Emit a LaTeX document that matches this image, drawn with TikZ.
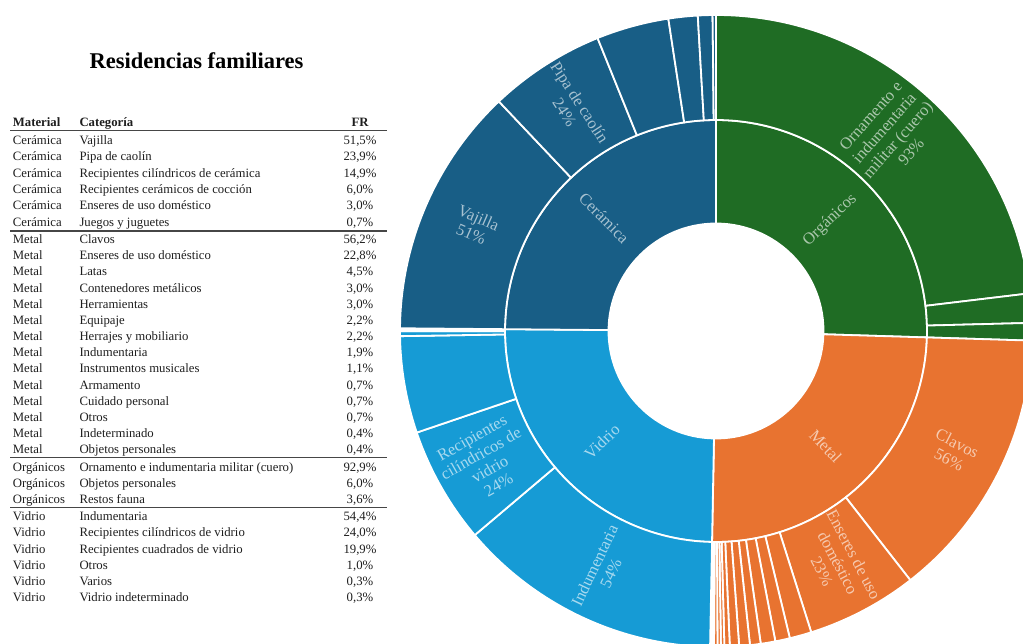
\documentclass[tikz,border=0pt]{standalone}
\usepackage{fontspec}
\setmainfont{Liberation Serif}
\definecolor{cerC}{RGB}{24,94,134}
\definecolor{orgC}{RGB}{31,108,36}
\definecolor{metC}{RGB}{232,115,48}
\definecolor{vidC}{RGB}{22,155,213}
\definecolor{rulegray}{RGB}{70,70,70}
\definecolor{tabtext}{RGB}{30,30,30}
\newcommand{\ringseg}[5]{%
  \filldraw[sep, fill=#5]
    ({90-(#3)}:#1pt) arc[start angle={90-(#3)}, end angle={90-(#4)}, radius=#1pt]
    -- ({90-(#4)}:#2pt) arc[start angle={90-(#4)}, end angle={90-(#3)}, radius=#2pt] -- cycle;}
\tikzset{
  sep/.style={draw=white, line width=1.8pt, line join=round},
  cell/.style={anchor=base west, inner sep=0pt, text=tabtext, font=\fontsize{12.75}{15}\selectfont},
  frcell/.style={anchor=base, inner sep=0pt, text=tabtext, font=\fontsize{12.75}{15}\selectfont},
  headcell/.style={inner sep=0pt, text=tabtext, font=\fontsize{12.75}{15}\selectfont\bfseries},
  tabrule/.style={draw=rulegray, line width=1.6pt},
  seglbl/.style={align=center, inner sep=0pt, font=\fontsize{16.5}{18}\selectfont},
}
\begin{document}
\begin{tikzpicture}[x=1pt, y=-1pt]
\useasboundingbox (0,0) rectangle (1023,644);
% title
\node[anchor=base, inner sep=0pt, font=\fontsize{22.5}{26}\selectfont\bfseries] (title) at (196.5,68.3) {Residencias familiares};
% table header
\node[headcell, anchor=base west] (hMat) at (12.7,126.5) {Material};
\node[headcell, anchor=base west] (hCat) at (79.3,126.5) {Categoría};
\node[headcell, anchor=base] (hFR) at (360,126.5) {FR};
\draw[tabrule] (10,130.7) -- (387,130.7);
\draw[tabrule] (10,231) -- (387,231);
\draw[tabrule] (10,457.3) -- (387,457.3);
\draw[tabrule] (10,507.5) -- (387,507.5);
\foreach \m/\c/\f/\yy [count=\i] in {
 {Cerámica}/{Vajilla}/{51,5\%}/144.3,
 {Cerámica}/{Pipa de caolín}/{23,9\%}/160.7,
 {Cerámica}/{Recipientes cilíndricos de cerámica}/{14,9\%}/177.1,
 {Cerámica}/{Recipientes cerámicos de cocción}/{6,0\%}/193.5,
 {Cerámica}/{Enseres de uso doméstico}/{3,0\%}/209.9,
 {Cerámica}/{Juegos y juguetes}/{0,7\%}/226.3,
 {Metal}/{Clavos}/{56,2\%}/243.7,
 {Metal}/{Enseres de uso doméstico}/{22,8\%}/259.85,
 {Metal}/{Latas}/{4,5\%}/276.0,
 {Metal}/{Contenedores metálicos}/{3,0\%}/292.15,
 {Metal}/{Herramientas}/{3,0\%}/308.3,
 {Metal}/{Equipaje}/{2,2\%}/324.45,
 {Metal}/{Herrajes y mobiliario}/{2,2\%}/340.6,
 {Metal}/{Indumentaria}/{1,9\%}/356.75,
 {Metal}/{Instrumentos musicales}/{1,1\%}/372.9,
 {Metal}/{Armamento}/{0,7\%}/389.05,
 {Metal}/{Cuidado personal}/{0,7\%}/405.2,
 {Metal}/{Otros}/{0,7\%}/421.35,
 {Metal}/{Indeterminado}/{0,4\%}/437.5,
 {Metal}/{Objetos personales}/{0,4\%}/453.65,
 {Orgánicos}/{Ornamento e indumentaria militar (cuero)}/{92,9\%}/471.4,
 {Orgánicos}/{Objetos personales}/{6,0\%}/487.6,
 {Orgánicos}/{Restos fauna}/{3,6\%}/503.8,
 {Vidrio}/{Indumentaria}/{54,4\%}/520.7,
 {Vidrio}/{Recipientes cilíndricos de vidrio}/{24,0\%}/536.9,
 {Vidrio}/{Recipientes cuadrados de vidrio}/{19,9\%}/553.1,
 {Vidrio}/{Otros}/{1,0\%}/569.3,
 {Vidrio}/{Varios}/{0,3\%}/585.5,
 {Vidrio}/{Vidrio indeterminado}/{0,3\%}/601.7}{
  \node[cell] (m\i) at (12.7,\yy) {\m};
  \node[cell] (c\i) at (79.3,\yy) {\c};
  \node[frcell] (f\i) at (360,\yy) {\f};
}
% sunburst
\begin{scope}
\clip (0,0) rectangle (1023,644);
\begin{scope}[shift={(716pt,-331pt)}, x=1pt, y=1pt]
% inner ring
\ringseg{107.5}{211}{0}{91.746}{orgC}
\ringseg{107.5}{211}{91.746}{181.077}{metC}
\ringseg{107.5}{211}{181.077}{270.496}{vidC}
\ringseg{107.5}{211}{270.496}{360}{cerC}
% outer ring: organicos
\ringseg{211}{316}{0}{83.153}{orgC}
\ringseg{211}{316}{83.153}{88.524}{orgC}
\ringseg{211}{316}{88.524}{91.746}{orgC}
% metal
\ringseg{211}{316}{91.746}{142.050}{metC}
\ringseg{211}{316}{142.050}{162.458}{metC}
\ringseg{211}{316}{162.458}{166.486}{metC}
\ringseg{211}{316}{166.486}{169.171}{metC}
\ringseg{211}{316}{169.171}{171.856}{metC}
\ringseg{211}{316}{171.856}{173.825}{metC}
\ringseg{211}{316}{173.825}{175.794}{metC}
\ringseg{211}{316}{175.794}{177.495}{metC}
\ringseg{211}{316}{177.495}{178.480}{metC}
\ringseg{211}{316}{178.480}{179.107}{metC}
\ringseg{211}{316}{179.107}{179.734}{metC}
\ringseg{211}{316}{179.734}{180.361}{metC}
\ringseg{211}{316}{180.361}{180.719}{metC}
\ringseg{211}{316}{180.719}{181.077}{metC}
% vidrio
\ringseg{211}{316}{181.077}{229.769}{vidC}
\ringseg{211}{316}{229.769}{251.251}{vidC}
\ringseg{211}{316}{251.251}{269.063}{vidC}
\ringseg{211}{316}{269.063}{269.958}{vidC}
\ringseg{211}{316}{269.958}{270.227}{vidC}
\ringseg{211}{316}{270.227}{270.496}{vidC}
% ceramica
\ringseg{211}{316}{270.496}{316.593}{cerC}
\ringseg{211}{316}{316.593}{337.985}{cerC}
\ringseg{211}{316}{337.985}{351.322}{cerC}
\ringseg{211}{316}{351.322}{356.692}{cerC}
\ringseg{211}{316}{356.692}{359.377}{cerC}
\ringseg{211}{316}{359.377}{360}{cerC}
% labels inner
\node[seglbl, text=white!62!orgC, rotate=44.13] (lOrg) at (44.13:159pt) {Orgánicos};
\node[seglbl, text=white!62!metC, rotate=-46.41] (lMet) at (-46.41:159pt) {Metal};
\node[seglbl, text=white!62!vidC, rotate=44.21] (lVid) at (-135.79:159pt) {Vidrio};
\node[seglbl, text=white!62!cerC, rotate=-45.25] (lCer) at (134.75:159pt) {Cerámica};
% labels outer
\node[seglbl, text=white!62!orgC, rotate=48.42] (lOrn) at (48.42:263.5pt) {Ornamento e\\indumentaria\\militar (cuero)\\93\%};
\node[seglbl, text=white!62!metC, rotate=-26.9] (lCla) at (-26.9:266pt) {Clavos\\56\%};
\node[seglbl, text=white!62!metC, rotate=-62.25] (lEns) at (-62.25:262pt) {Enseres de uso\\doméstico\\23\%};
\node[seglbl, text=white!62!vidC, rotate=64.58] (lInd) at (-115.42:264pt) {Indumentaria\\54\%};
\node[seglbl, text=white!62!vidC, rotate=29.49] (lRec) at (-150.51:265pt) {Recipientes\\cilíndricos de\\vidrio\\24\%};
\node[seglbl, text=white!62!cerC, rotate=-23.55] (lVaj) at (156.45:263pt) {Vajilla\\51\%};
\node[seglbl, text=white!62!cerC, rotate=-57.29] (lPip) at (122.71:266pt) {Pipa de caolín\\24\%};
\end{scope}
\end{scope}
\end{tikzpicture}
\end{document}
